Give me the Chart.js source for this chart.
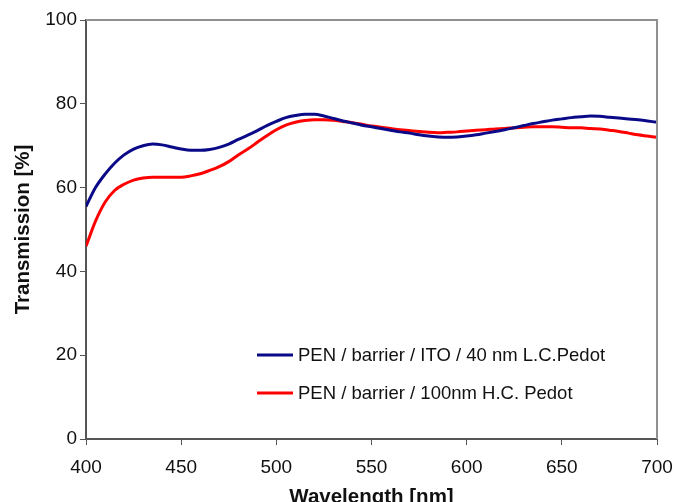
<!DOCTYPE html>
<html>
<head>
<meta charset="utf-8">
<script src="https://cdn.jsdelivr.net/npm/chart.js@4/dist/chart.umd.min.js"></script>
<style>
  html, body { margin: 0; padding: 0; background: #fff; }
  #wrap { width: 675px; height: 502px; }
</style>
</head>
<body>
<div id="wrap"><canvas id="myChart"></canvas></div>
<script>
// wavelength in nm, 5 nm step
const wavelengths = [400, 405, 410, 415, 420, 425, 430, 435, 440, 445,
  450, 455, 460, 465, 470, 475, 480, 485, 490, 495,
  500, 505, 510, 515, 520, 525, 530, 535, 540, 545,
  550, 555, 560, 565, 570, 575, 580, 585, 590, 595,
  600, 605, 610, 615, 620, 625, 630, 635, 640, 645,
  650, 655, 660, 665, 670, 675, 680, 685, 690, 695, 700]

const itoValues = [55.5, 60, 63.2, 65.8, 67.8, 69.2, 70, 70.4, 70.2, 69.7,
  69.2, 68.9, 68.9, 69.1, 69.6, 70.4, 71.5, 72.5, 73.6, 74.8,
  75.8, 76.7, 77.2, 77.5, 77.5, 77.1, 76.5, 75.9, 75.4, 74.9,
  74.5, 74.1, 73.7, 73.3, 73, 72.6, 72.3, 72.1, 72, 72.1,
  72.3, 72.6, 73, 73.4, 73.8, 74.3, 74.8, 75.3, 75.7, 76.1,
  76.4, 76.7, 76.9, 77.1, 77, 76.8, 76.6, 76.4, 76.2, 75.9, 75.6]

const hcValues = [46, 52, 56.5, 59.3, 60.8, 61.8, 62.3, 62.5, 62.5, 62.5,
  62.5, 62.8, 63.3, 64.1, 65, 66.2, 67.8, 69.2, 70.8, 72.4,
  73.8, 74.9, 75.6, 76, 76.2, 76.2, 76.1, 75.8, 75.5, 75.1,
  74.7, 74.4, 74.1, 73.8, 73.6, 73.4, 73.2, 73.1, 73.2, 73.3,
  73.5, 73.7, 73.8, 74, 74.1, 74.3, 74.4, 74.5, 74.5, 74.5,
  74.4, 74.3, 74.3, 74.1, 74, 73.7, 73.4, 73, 72.6, 72.3, 72]

const seriesLabels = ["PEN / barrier / ITO / 40 nm L.C.Pedot", "PEN / barrier / 100nm H.C. Pedot"]
const seriesColors = ["#0a0a88", "#ff0000"]
const xTicks = [400, 450, 500, 550, 600, 650, 700]
const yTicks = [0, 20, 40, 60, 80, 100]

const font = "'Liberation Sans', Arial, sans-serif"

function toPoints(values) {
  return values.map((v, i) => ({ x: wavelengths[i], y: v }))
}

// top + right frame and legend inside the plot
const framePlugin = {
  id: "frame",
  afterDraw(chart) {
    const ctx = chart.ctx
    const a = chart.chartArea
    ctx.save()
    ctx.strokeStyle = "#909090"
    ctx.lineWidth = 2
    ctx.beginPath()
    ctx.moveTo(a.left, a.top)
    ctx.lineTo(a.right, a.top)
    ctx.lineTo(a.right, a.bottom)
    ctx.stroke()

    ctx.font = "18.5px " + font
    ctx.textBaseline = "middle"
    ctx.fillStyle = "#111"
    chart.data.datasets.forEach((ds, i) => {
      const y = 355 + i * 38
      ctx.strokeStyle = ds.borderColor
      ctx.lineWidth = 3
      ctx.beginPath()
      ctx.moveTo(257, y)
      ctx.lineTo(293, y)
      ctx.stroke()
      ctx.fillText(ds.label, 298, y + 1)
    })
    ctx.restore()
  }
}

const ctx = document.getElementById("myChart").getContext("2d")
const myChart = new Chart(ctx, {
  type: "line",
  data: {
    datasets: [
      { label: seriesLabels[0], data: toPoints(itoValues), borderColor: seriesColors[0], borderWidth: 3, pointRadius: 0, tension: 0.4, cubicInterpolationMode: "monotone" },
      { label: seriesLabels[1], data: toPoints(hcValues), borderColor: seriesColors[1], borderWidth: 3, pointRadius: 0, tension: 0.4, cubicInterpolationMode: "monotone" }
    ]
  },
  options: {
    responsive: true,
    maintainAspectRatio: false,
    animation: false,
    layout: { padding: { top: 20, right: 18, left: 0, bottom: 0 } },
    plugins: {
      legend: { display: false },
      tooltip: { enabled: false }
    },
    scales: {
      x: {
        type: "linear",
        min: 400,
        max: 700,
        afterBuildTicks(scale) { scale.ticks = xTicks.map(v => ({ value: v })) },
        afterFit(scale) {
          scale.height = 63
          scale.paddingLeft = 0
          scale.paddingRight = 0
        },
        grid: { drawOnChartArea: false, drawTicks: true, tickLength: 6, color: "#555", lineWidth: 1 },
        border: { color: "#555", width: 2 },
        ticks: { color: "#111", padding: 11, font: { family: font, size: 19 } },
        title: { display: true, text: "Wavelength [nm]", color: "#111", padding: { top: 0, bottom: -8 }, font: { family: font, size: 20.5, weight: "bold" } }
      },
      y: {
        min: 0,
        max: 100,
        afterBuildTicks(scale) { scale.ticks = yTicks.map(v => ({ value: v })) },
        afterFit(scale) { scale.width = 86 },
        grid: { drawOnChartArea: false, drawTicks: true, tickLength: 6, color: "#555", lineWidth: 1 },
        border: { color: "#555", width: 2 },
        ticks: { color: "#111", padding: 3, font: { family: font, size: 19 } },
        title: { display: true, text: "Transmission [%]", color: "#111", padding: { top: 11, bottom: 0 }, font: { family: font, size: 20.5, weight: "bold" } }
      }
    }
  },
  plugins: [framePlugin]
})
</script>
</body>
</html>
